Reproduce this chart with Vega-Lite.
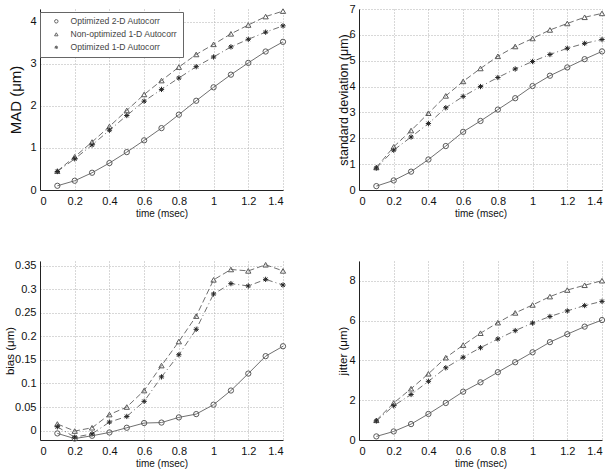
{
  "$schema": "https://vega.github.io/schema/vega-lite/v6.json",
  "background": "white",
  "padding": {"left": 4, "top": 3, "right": 5, "bottom": 5},
  "datasets": {
    "mad": [
      {"s":"A","t":0.1,"v":0.10},{"s":"A","t":0.2,"v":0.22},{"s":"A","t":0.3,"v":0.41},{"s":"A","t":0.4,"v":0.64},{"s":"A","t":0.5,"v":0.90},{"s":"A","t":0.6,"v":1.18},{"s":"A","t":0.7,"v":1.47},{"s":"A","t":0.8,"v":1.79},{"s":"A","t":0.9,"v":2.12},{"s":"A","t":1.0,"v":2.44},{"s":"A","t":1.1,"v":2.74},{"s":"A","t":1.2,"v":3.02},{"s":"A","t":1.3,"v":3.29},{"s":"A","t":1.4,"v":3.52},
      {"s":"B","t":0.1,"v":0.45},{"s":"B","t":0.2,"v":0.79},{"s":"B","t":0.3,"v":1.14},{"s":"B","t":0.4,"v":1.51},{"s":"B","t":0.5,"v":1.89},{"s":"B","t":0.6,"v":2.27},{"s":"B","t":0.7,"v":2.60},{"s":"B","t":0.8,"v":2.92},{"s":"B","t":0.9,"v":3.22},{"s":"B","t":1.0,"v":3.46},{"s":"B","t":1.1,"v":3.71},{"s":"B","t":1.2,"v":3.92},{"s":"B","t":1.3,"v":4.12},{"s":"B","t":1.4,"v":4.25},
      {"s":"C","t":0.1,"v":0.44},{"s":"C","t":0.2,"v":0.74},{"s":"C","t":0.3,"v":1.07},{"s":"C","t":0.4,"v":1.42},{"s":"C","t":0.5,"v":1.77},{"s":"C","t":0.6,"v":2.11},{"s":"C","t":0.7,"v":2.39},{"s":"C","t":0.8,"v":2.66},{"s":"C","t":0.9,"v":2.93},{"s":"C","t":1.0,"v":3.16},{"s":"C","t":1.1,"v":3.40},{"s":"C","t":1.2,"v":3.58},{"s":"C","t":1.3,"v":3.75},{"s":"C","t":1.4,"v":3.90}
    ],
    "std": [
      {"s":"A","t":0.1,"v":0.15},{"s":"A","t":0.2,"v":0.37},{"s":"A","t":0.3,"v":0.71},{"s":"A","t":0.4,"v":1.18},{"s":"A","t":0.5,"v":1.70},{"s":"A","t":0.6,"v":2.25},{"s":"A","t":0.7,"v":2.67},{"s":"A","t":0.8,"v":3.11},{"s":"A","t":0.9,"v":3.55},{"s":"A","t":1.0,"v":4.02},{"s":"A","t":1.1,"v":4.42},{"s":"A","t":1.2,"v":4.74},{"s":"A","t":1.3,"v":5.06},{"s":"A","t":1.4,"v":5.36},
      {"s":"B","t":0.1,"v":0.87},{"s":"B","t":0.2,"v":1.67},{"s":"B","t":0.3,"v":2.30},{"s":"B","t":0.4,"v":2.97},{"s":"B","t":0.5,"v":3.64},{"s":"B","t":0.6,"v":4.20},{"s":"B","t":0.7,"v":4.70},{"s":"B","t":0.8,"v":5.17},{"s":"B","t":0.9,"v":5.55},{"s":"B","t":1.0,"v":5.86},{"s":"B","t":1.1,"v":6.19},{"s":"B","t":1.2,"v":6.44},{"s":"B","t":1.3,"v":6.68},{"s":"B","t":1.4,"v":6.83},
      {"s":"C","t":0.1,"v":0.85},{"s":"C","t":0.2,"v":1.54},{"s":"C","t":0.3,"v":2.05},{"s":"C","t":0.4,"v":2.57},{"s":"C","t":0.5,"v":3.18},{"s":"C","t":0.6,"v":3.62},{"s":"C","t":0.7,"v":4.00},{"s":"C","t":0.8,"v":4.35},{"s":"C","t":0.9,"v":4.68},{"s":"C","t":1.0,"v":4.97},{"s":"C","t":1.1,"v":5.24},{"s":"C","t":1.2,"v":5.48},{"s":"C","t":1.3,"v":5.67},{"s":"C","t":1.4,"v":5.82}
    ],
    "bias": [
      {"s":"A","t":0.1,"v":-0.006},{"s":"A","t":0.2,"v":-0.017},{"s":"A","t":0.3,"v":-0.011},{"s":"A","t":0.4,"v":-0.004},{"s":"A","t":0.5,"v":0.006},{"s":"A","t":0.6,"v":0.016},{"s":"A","t":0.7,"v":0.017},{"s":"A","t":0.8,"v":0.028},{"s":"A","t":0.9,"v":0.035},{"s":"A","t":1.0,"v":0.055},{"s":"A","t":1.1,"v":0.085},{"s":"A","t":1.2,"v":0.121},{"s":"A","t":1.3,"v":0.158},{"s":"A","t":1.4,"v":0.179},
      {"s":"B","t":0.1,"v":0.014},{"s":"B","t":0.2,"v":-0.001},{"s":"B","t":0.3,"v":0.006},{"s":"B","t":0.4,"v":0.034},{"s":"B","t":0.5,"v":0.050},{"s":"B","t":0.6,"v":0.085},{"s":"B","t":0.7,"v":0.138},{"s":"B","t":0.8,"v":0.189},{"s":"B","t":0.9,"v":0.243},{"s":"B","t":1.0,"v":0.320},{"s":"B","t":1.1,"v":0.342},{"s":"B","t":1.2,"v":0.339},{"s":"B","t":1.3,"v":0.352},{"s":"B","t":1.4,"v":0.339},
      {"s":"C","t":0.1,"v":0.008},{"s":"C","t":0.2,"v":-0.014},{"s":"C","t":0.3,"v":-0.007},{"s":"C","t":0.4,"v":0.018},{"s":"C","t":0.5,"v":0.030},{"s":"C","t":0.6,"v":0.062},{"s":"C","t":0.7,"v":0.114},{"s":"C","t":0.8,"v":0.161},{"s":"C","t":0.9,"v":0.215},{"s":"C","t":1.0,"v":0.290},{"s":"C","t":1.1,"v":0.312},{"s":"C","t":1.2,"v":0.307},{"s":"C","t":1.3,"v":0.321},{"s":"C","t":1.4,"v":0.309}
    ],
    "jit": [
      {"s":"A","t":0.1,"v":0.18},{"s":"A","t":0.2,"v":0.43},{"s":"A","t":0.3,"v":0.80},{"s":"A","t":0.4,"v":1.31},{"s":"A","t":0.5,"v":1.86},{"s":"A","t":0.6,"v":2.43},{"s":"A","t":0.7,"v":2.90},{"s":"A","t":0.8,"v":3.41},{"s":"A","t":0.9,"v":3.91},{"s":"A","t":1.0,"v":4.41},{"s":"A","t":1.1,"v":4.92},{"s":"A","t":1.2,"v":5.32},{"s":"A","t":1.3,"v":5.70},{"s":"A","t":1.4,"v":6.03},
      {"s":"B","t":0.1,"v":0.99},{"s":"B","t":0.2,"v":1.86},{"s":"B","t":0.3,"v":2.58},{"s":"B","t":0.4,"v":3.33},{"s":"B","t":0.5,"v":4.14},{"s":"B","t":0.6,"v":4.77},{"s":"B","t":0.7,"v":5.37},{"s":"B","t":0.8,"v":5.90},{"s":"B","t":0.9,"v":6.39},{"s":"B","t":1.0,"v":6.79},{"s":"B","t":1.1,"v":7.21},{"s":"B","t":1.2,"v":7.54},{"s":"B","t":1.3,"v":7.78},{"s":"B","t":1.4,"v":8.01},
      {"s":"C","t":0.1,"v":0.96},{"s":"C","t":0.2,"v":1.72},{"s":"C","t":0.3,"v":2.29},{"s":"C","t":0.4,"v":2.95},{"s":"C","t":0.5,"v":3.63},{"s":"C","t":0.6,"v":4.16},{"s":"C","t":0.7,"v":4.64},{"s":"C","t":0.8,"v":5.08},{"s":"C","t":0.9,"v":5.50},{"s":"C","t":1.0,"v":5.88},{"s":"C","t":1.1,"v":6.21},{"s":"C","t":1.2,"v":6.49},{"s":"C","t":1.3,"v":6.76},{"s":"C","t":1.4,"v":6.97}
    ]
  },
  "config": {
    "font": "Liberation Sans",
    "view": {"stroke": null},
    "axis": {
      "labelFont": "Liberation Sans", "labelFontSize": 11, "labelColor": "#111",
      "titleFont": "Liberation Sans", "titleFontWeight": "normal", "titleColor": "#111",
      "domainColor": "#222", "tickSize": 0, "labelPadding": 5,
      "gridColor": "#b0b0b0", "gridDash": [1, 2], "gridWidth": 1
    },
    "axisX": {"titleFontSize": 10, "titleY": 23, "titleBaseline": "middle"},
    "axisY": {"titleBaseline": "middle", "labelPadding": 4},
    "line": {"color": "#707070", "strokeWidth": 1},
    "point": {"color": "#5a5a5a", "filled": false, "size": 28, "strokeWidth": 1, "opacity": 1}
  },
  "resolve": {"scale": {"shape": "independent"}, "legend": {"shape": "independent"}},
  "columns": 2,
  "spacing": {"row": 71, "column": 76},
  "bounds": "flush",
  "concat": [
    {
      "width": 243, "height": 181,
      "data": {"name": "mad"},
      "encoding": {
        "x": {"field": "t", "type": "quantitative", "scale": {"domain": [0, 1.4], "nice": false}, "axis": {"values": [0,0.2,0.4,0.6,0.8,1,1.2,1.4], "format": "~g", "title": "time (msec)"}},
        "y": {"field": "v", "type": "quantitative", "scale": {"domain": [0, 4.3], "nice": false}, "axis": {"values": [0,1,2,3,4], "title": "MAD (μm)", "titleFontSize": 15, "titleX": -25}}
      },
      "layer": [
        {"transform": [{"filter": "datum.s == 'A'"}], "mark": {"type": "line"}},
        {"transform": [{"filter": "datum.s == 'B'"}], "mark": {"type": "line", "strokeDash": [6, 3]}},
        {"transform": [{"filter": "datum.s == 'C'"}], "mark": {"type": "line", "strokeDash": [6, 3, 1, 3]}},
        {"mark": {"type": "point"},
         "encoding": {
           "stroke": {"condition": {"test": "datum.s == 'C'", "value": "#262626"}, "value": "#5a5a5a"},
           "shape": {"field": "s", "type": "nominal",
           "scale": {"domain": ["A","B","C"], "range": ["circle","triangle-up","M-1,0L1,0M0,-1L0,1M-0.7,-0.7L0.7,0.7M-0.7,0.7L0.7,-0.7"]},
           "legend": {"orient": "none", "legendX": 0, "legendY": 3, "title": null,
             "labelExpr": "datum.label == 'A' ? 'Optimized 2-D Autocorr' : datum.label == 'B' ? 'Non-optimized 1-D Autocorr' : 'Optimized 1-D Autocorr'",
             "strokeColor": "#666", "fillColor": "white", "padding": 5, "labelFont": "Liberation Sans", "labelFontSize": 8.6, "labelColor": "#444",
             "symbolSize": 12, "symbolStrokeColor": "#666", "symbolFillColor": "transparent", "symbolStrokeWidth": 1, "symbolOffset": 7, "rowPadding": 4, "labelOffset": 10}}}}
      ]
    },
    {
      "width": 243, "height": 181,
      "data": {"name": "std"},
      "encoding": {
        "x": {"field": "t", "type": "quantitative", "scale": {"domain": [0, 1.4], "nice": false}, "axis": {"values": [0,0.2,0.4,0.6,0.8,1,1.2,1.4], "format": "~g", "title": "time (msec)"}},
        "y": {"field": "v", "type": "quantitative", "scale": {"domain": [0, 7], "nice": false}, "axis": {"values": [0,1,2,3,4,5,6,7], "title": "standard deviation (μm)", "titleFontSize": 12.5, "titleX": -16}}
      },
      "layer": [
        {"transform": [{"filter": "datum.s == 'A'"}], "mark": {"type": "line"}},
        {"transform": [{"filter": "datum.s == 'B'"}], "mark": {"type": "line", "strokeDash": [6, 3]}},
        {"transform": [{"filter": "datum.s == 'C'"}], "mark": {"type": "line", "strokeDash": [6, 3, 1, 3]}},
        {"mark": {"type": "point"}, "encoding": {"stroke": {"condition": {"test": "datum.s == 'C'", "value": "#262626"}, "value": "#5a5a5a"}, "shape": {"field": "s", "type": "nominal", "scale": {"domain": ["A","B","C"], "range": ["circle","triangle-up","M-1,0L1,0M0,-1L0,1M-0.7,-0.7L0.7,0.7M-0.7,0.7L0.7,-0.7"]}, "legend": null}}}
      ]
    },
    {
      "width": 243, "height": 179,
      "data": {"name": "bias"},
      "encoding": {
        "x": {"field": "t", "type": "quantitative", "scale": {"domain": [0, 1.4], "nice": false}, "axis": {"values": [0,0.2,0.4,0.6,0.8,1,1.2,1.4], "format": "~g", "title": "time (msec)"}},
        "y": {"field": "v", "type": "quantitative", "scale": {"domain": [-0.02, 0.36], "nice": false, "zero": false}, "axis": {"values": [0,0.05,0.1,0.15,0.2,0.25,0.3,0.35], "format": "~g", "title": "bias (μm)", "titleFontSize": 11.5, "titleX": -30}}
      },
      "layer": [
        {"transform": [{"filter": "datum.s == 'A'"}], "mark": {"type": "line"}},
        {"transform": [{"filter": "datum.s == 'B'"}], "mark": {"type": "line", "strokeDash": [6, 3]}},
        {"transform": [{"filter": "datum.s == 'C'"}], "mark": {"type": "line", "strokeDash": [6, 3, 1, 3]}},
        {"mark": {"type": "point"}, "encoding": {"stroke": {"condition": {"test": "datum.s == 'C'", "value": "#262626"}, "value": "#5a5a5a"}, "shape": {"field": "s", "type": "nominal", "scale": {"domain": ["A","B","C"], "range": ["circle","triangle-up","M-1,0L1,0M0,-1L0,1M-0.7,-0.7L0.7,0.7M-0.7,0.7L0.7,-0.7"]}, "legend": null}}}
      ]
    },
    {
      "width": 243, "height": 179,
      "data": {"name": "jit"},
      "encoding": {
        "x": {"field": "t", "type": "quantitative", "scale": {"domain": [0, 1.4], "nice": false}, "axis": {"values": [0,0.2,0.4,0.6,0.8,1,1.2,1.4], "format": "~g", "title": "time (msec)"}},
        "y": {"field": "v", "type": "quantitative", "scale": {"domain": [0, 9], "nice": false}, "axis": {"values": [0,2,4,6,8], "title": "jitter (μm)", "titleFontSize": 11.5, "titleX": -16}}
      },
      "layer": [
        {"transform": [{"filter": "datum.s == 'A'"}], "mark": {"type": "line"}},
        {"transform": [{"filter": "datum.s == 'B'"}], "mark": {"type": "line", "strokeDash": [6, 3]}},
        {"transform": [{"filter": "datum.s == 'C'"}], "mark": {"type": "line", "strokeDash": [6, 3, 1, 3]}},
        {"mark": {"type": "point"}, "encoding": {"stroke": {"condition": {"test": "datum.s == 'C'", "value": "#262626"}, "value": "#5a5a5a"}, "shape": {"field": "s", "type": "nominal", "scale": {"domain": ["A","B","C"], "range": ["circle","triangle-up","M-1,0L1,0M0,-1L0,1M-0.7,-0.7L0.7,0.7M-0.7,0.7L0.7,-0.7"]}, "legend": null}}}
      ]
    }
  ]
}
